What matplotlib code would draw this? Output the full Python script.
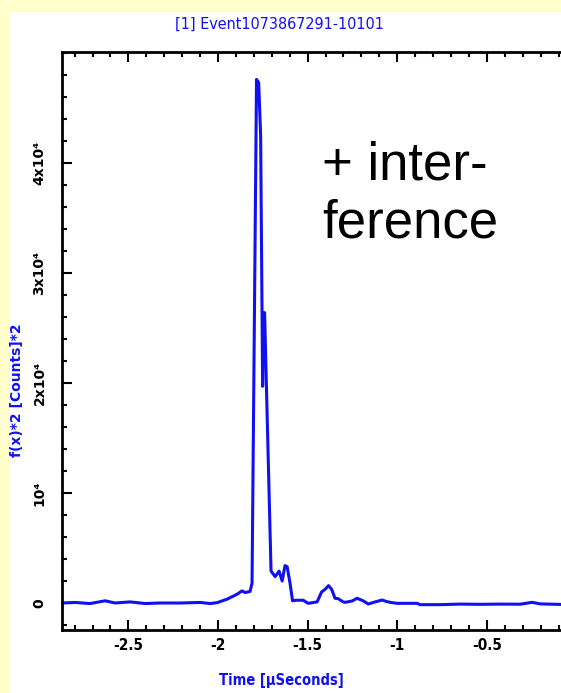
import matplotlib
matplotlib.use("Agg")
import matplotlib.pyplot as plt
from matplotlib.patches import Rectangle
from matplotlib.ticker import MultipleLocator

# trace: time [us] and f(x)^2 [counts^2]
time_us = [-2.870, -2.797, -2.714, -2.630, -2.574, -2.490, -2.407, -2.323,
           -2.211, -2.100, -2.044, -2.005, -1.949, -1.893, -1.866, -1.849,
           -1.821, -1.810, -1.785, -1.773, -1.762, -1.751, -1.746, -1.740,
           -1.704, -1.681, -1.659, -1.642, -1.626, -1.614, -1.598, -1.584,
           -1.564, -1.525, -1.497, -1.447, -1.422, -1.402, -1.383, -1.366,
           -1.347, -1.330, -1.302, -1.291, -1.252, -1.224, -1.190, -1.162,
           -1.123, -1.084, -1.062, -1.040, -1.001, -0.889, -0.872, -0.761,
           -0.649, -0.537, -0.426, -0.314, -0.247, -0.202, -0.085, -0.002]
power = [0, 50, -50, 200, 0, 100, -50, 0,
         0, 50, -50, 30, 350, 800, 1100, 950,
         1050, 1800, 47600, 47300, 42500, 19700, 26400, 26400,
         2900, 2400, 2900, 2000, 3400, 3300, 1800, 200,
         250, 250, -30, 100, 1000, 1250, 1580, 1250,
         430, 400, 100, 60, 180, 430, 200, -90,
         100, 270, 150, 60, -30, -30, -150, -150,
         -100, -120, -100, -110, 60, -80, -130, -100]

x_ticks = [-2.5, -2.0, -1.5, -1.0, -0.5]
x_tick_labels = ["-2.5", "-2", "-1.5", "-1", "-0.5"]
y_ticks = [0, 10000, 20000, 30000, 40000]
y_tick_labels = ["0", "10⁴", "2x10⁴", "3x10⁴", "4x10⁴"]

title = "[1] Event1073867291-10101"
x_label = "Time [μSeconds]"
y_label = "f(x)*2 [Counts]*2"

blue = "#1010f0"

fig = plt.figure(figsize=(5.61, 6.93), dpi=100)
fig.patch.set_facecolor("#ffffcc")
fig.patches.append(Rectangle((10 / 561, 0), 1, 1 - 12 / 693,
                             transform=fig.transFigure, facecolor="white",
                             edgecolor="none", zorder=-5))

ax = fig.add_axes([0.110, 0.0909, 0.9175, 0.834])
ax.set_zorder(2)
ax.patch.set_alpha(0)
ax.plot(time_us, power, color=blue, lw=2.2)
ax.set_xlim(-2.872, 0.0)
ax.set_ylim(-2455, 50090)

ax.set_xticks(x_ticks)
ax.set_xticklabels(x_tick_labels, fontstretch="condensed", fontweight="bold", fontsize=11)
ax.set_yticks(y_ticks)
ax.set_yticklabels(y_tick_labels, rotation=90, va="center", fontweight="bold", fontsize=10)
ax.xaxis.set_minor_locator(MultipleLocator(0.1))
ax.yaxis.set_minor_locator(MultipleLocator(2000))
ax.tick_params(which="both", direction="in", top=True, right=False, width=1.5)
ax.tick_params(which="major", length=7, pad=6)
ax.tick_params(axis="y", which="major", pad=11)
ax.tick_params(which="minor", length=3.5)
for side in ["left", "bottom", "top"]:
    ax.spines[side].set_linewidth(2)
ax.spines["right"].set_visible(False)

fig.text(279 / 561, 1 - 24 / 693, title, color=blue, fontsize=11.5,
         fontstretch="condensed", ha="center", va="center")
fig.text(281 / 561, 1 - 680 / 693, x_label, color=blue, fontsize=10.5,
         fontstretch="condensed", fontweight="bold", ha="center", va="center")
fig.text(17 / 561, 1 - 390 / 693, y_label, color=blue, fontsize=10,
         fontweight="bold", rotation=90, ha="center", va="center")

fig.text(322 / 561, 1 - 180 / 693, "+ inter-", fontsize=38,
         family="Liberation Sans", va="baseline")
fig.text(322 / 561, 1 - 237 / 693, "ference", fontsize=38,
         family="Liberation Sans", va="baseline")

plt.savefig("out.png", dpi=100, facecolor=fig.get_facecolor())
